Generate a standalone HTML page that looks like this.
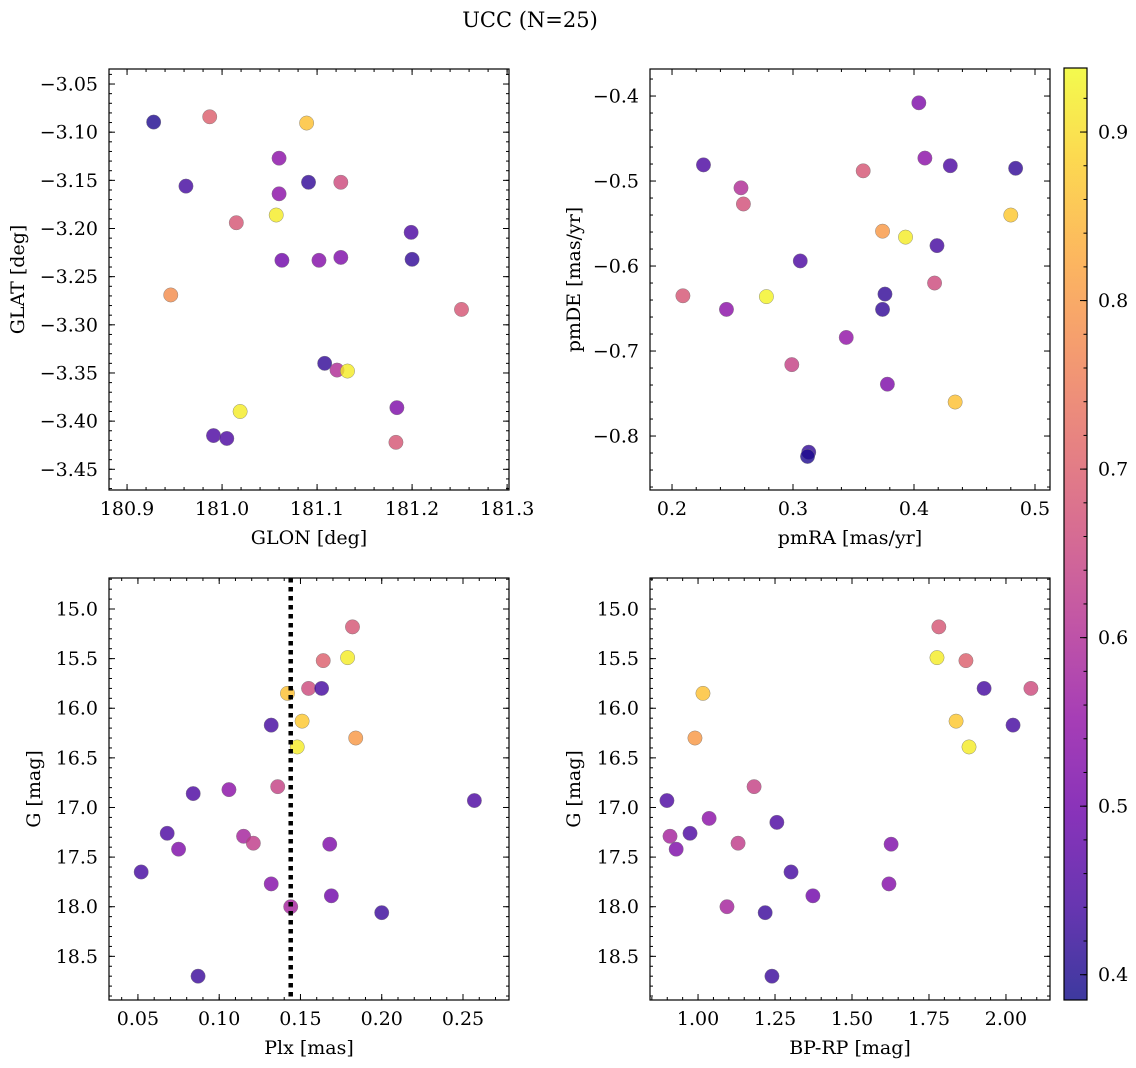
<!DOCTYPE html>
<html><head><meta charset="utf-8"><style>
html,body{margin:0;padding:0;background:#fff;}
svg{display:block;font-family:"DejaVu Serif","Liberation Serif",serif;}
</style></head><body>
<svg id="fig" width="1136" height="1068" viewBox="0 0 1136 1068" xmlns="http://www.w3.org/2000/svg">
<text x="530" y="27" font-size="21" text-anchor="middle">UCC (N=25)</text>
</svg>
<script>
const cTL = [0.40,0.70,0.86,0.44,0.54,0.54,0.42,0.66,0.92,0.68,0.45,0.50,0.53,0.52,0.42,0.78,0.68,0.42,0.60,0.92,0.92,0.52,0.45,0.45,0.68];
const glon = [180.928,180.987,181.089,180.962,181.060,181.060,181.091,181.125,181.057,181.015,181.199,181.063,181.102,181.125,181.200,180.946,181.252,181.108,181.121,181.132,181.019,181.184,180.991,181.005,181.183];
const glat = [-3.0895,-3.084,-3.0905,-3.156,-3.127,-3.164,-3.152,-3.152,-3.186,-3.194,-3.204,-3.233,-3.233,-3.230,-3.232,-3.269,-3.284,-3.340,-3.347,-3.348,-3.390,-3.386,-3.415,-3.418,-3.422];

const cTR = [0.52,0.45,0.42,0.54,0.45,0.60,0.68,0.67,0.87,0.80,0.92,0.44,0.45,0.68,0.93,0.42,0.54,0.42,0.66,0.55,0.64,0.52,0.86,0.42,0.40];
const pmra = [0.404,0.226,0.484,0.409,0.430,0.257,0.358,0.259,0.480,0.374,0.393,0.419,0.306,0.209,0.278,0.376,0.245,0.374,0.417,0.344,0.299,0.378,0.434,0.313,0.312];
const pmde = [-0.408,-0.481,-0.485,-0.473,-0.482,-0.508,-0.488,-0.527,-0.540,-0.559,-0.566,-0.576,-0.594,-0.635,-0.636,-0.633,-0.651,-0.651,-0.620,-0.684,-0.716,-0.739,-0.760,-0.819,-0.824];

const cB = [0.68,0.92,0.70,0.86,0.66,0.44,0.87,0.80,0.44,0.92,0.45,0.45,0.54,0.64,0.45,0.58,0.52,0.63,0.52,0.44,0.53,0.50,0.58,0.43,0.43];
const plx = [0.182,0.179,0.164,0.142,0.155,0.163,0.151,0.184,0.132,0.148,0.257,0.084,0.106,0.136,0.068,0.115,0.075,0.121,0.168,0.052,0.132,0.169,0.144,0.200,0.087];
const gmagL = [15.18,15.49,15.52,15.85,15.80,15.80,16.13,16.30,16.17,16.39,16.93,16.86,16.82,16.79,17.26,17.29,17.42,17.36,17.37,17.65,17.77,17.89,18.00,18.06,18.70];
const bprp = [1.782,1.776,1.870,1.016,2.081,1.929,1.838,0.990,2.023,1.880,0.899,1.256,1.036,1.182,0.974,0.909,0.929,1.130,1.627,1.302,1.620,1.373,1.094,1.218,1.240];
const gmagR = [15.18,15.49,15.52,15.85,15.80,15.80,16.13,16.30,16.17,16.39,16.93,17.15,17.11,16.79,17.26,17.29,17.42,17.36,17.37,17.65,17.77,17.89,18.00,18.06,18.70];
const plxLine = [0.144];
const cbTicks = [0.4,0.5,0.6,0.7,0.8,0.9];

const NS='http://www.w3.org/2000/svg';
const svg=document.getElementById('fig');
const CMIN=0.385, CMAX=0.938;
const FS=19;
const stops=['#0d0887','#41049d','#6a00a8','#8f0da4','#b12a90','#cc4778','#e16462','#f2844b','#fca636','#fcce25','#f0f921'];
function hex(h){return [parseInt(h.slice(1,3),16),parseInt(h.slice(3,5),16),parseInt(h.slice(5,7),16)];}
function plasma(t){t=Math.max(0,Math.min(1,t));const f=t*10,i=Math.min(9,Math.floor(f)),u=f-i;const a=hex(stops[i]),b=hex(stops[i+1]);
 const c=a.map((v,k)=>Math.round(v+(b[k]-v)*u));return 'rgb('+c.join(',')+')';}
function cmap(v){return plasma((v-CMIN)/(CMAX-CMIN));}
function mk(tag,attrs,parent){const e=document.createElementNS(NS,tag);for(const k in attrs)e.setAttribute(k,attrs[k]);(parent||svg).appendChild(e);return e;}
function fmt(v,d){return (v<0?'\u2212':'')+Math.abs(v).toFixed(d);}

function panel(o){
 const g=mk('g',{});
 
 
 const sx=v=>o.x0+(v-o.xmin)/(o.xmax-o.xmin)*(o.x1-o.x0);
 const sy=o.flipY ? (v=>o.y0+(v-o.ymin)/(o.ymax-o.ymin)*(o.y1-o.y0)) : (v=>o.y0+(o.ymax-v)/(o.ymax-o.ymin)*(o.y1-o.y0));
 const pg=mk('g',{},g);
 
 
 for(let i=0;i<o.xs.length;i++){
  const c=mk('circle',{cx:sx(o.xs[i]),cy:sy(o.ys[i]),r:7.2,fill:cmap(o.cs[i]),'fill-opacity':0.8,stroke:'#777','stroke-width':0.4},pg);
  
  
 }
 if(o.vline){for(const v of o.vline){
  const l=mk('line',{x1:sx(v),x2:sx(v),y1:o.y0,y2:o.y1,stroke:'#000','stroke-width':4.5,'stroke-dasharray':'4.5,4.5'},g);
  
  
 }}
 const tg=mk('g',{stroke:'#000','stroke-width':1},g);
 const eps=1e-9;
 function rng(lo,hi,step){const a=Math.ceil((lo-eps)/step),b=Math.floor((hi+eps)/step);const r=[];for(let k=a;k<=b;k++)r.push(k*step);return r;}
 for(const v of rng(o.xmin,o.xmax,o.xminor)){const x=sx(v);mk('line',{x1:x,x2:x,y1:o.y1,y2:o.y1-3},tg);mk('line',{x1:x,x2:x,y1:o.y0,y2:o.y0+3},tg);}
 for(const v of rng(o.ymin,o.ymax,o.yminor)){const y=sy(v);mk('line',{x1:o.x0,x2:o.x0+3,y1:y,y2:y},tg);mk('line',{x1:o.x1,x2:o.x1-3,y1:y,y2:y},tg);}
 for(const v of rng(o.xmin,o.xmax,o.xmajor)){const x=sx(v);mk('line',{x1:x,x2:x,y1:o.y1,y2:o.y1-6},tg);mk('line',{x1:x,x2:x,y1:o.y0,y2:o.y0+6},tg);
  const t=mk('text',{x:x,y:o.y1+25,'font-size':FS,'text-anchor':'middle'},g);t.textContent=fmt(v,o.xd);
  
  }
 for(const v of rng(o.ymin,o.ymax,o.ymajor)){const y=sy(v);mk('line',{x1:o.x0,x2:o.x0+6,y1:y,y2:y},tg);mk('line',{x1:o.x1,x2:o.x1-6,y1:y,y2:y},tg);
  const t=mk('text',{x:o.x0-11,y:y+6.5,'font-size':FS,'text-anchor':'end'},g);t.textContent=fmt(v,o.yd);
  
  }
 const fr=mk('rect',{x:o.x0,y:o.y0,width:o.x1-o.x0,height:o.y1-o.y0,fill:'none',stroke:'#000','stroke-width':1.2},g);
 
 
 const xl=mk('text',{x:(o.x0+o.x1)/2,y:o.y1+54,'font-size':FS,'text-anchor':'middle'},g);xl.textContent=o.xlabel;
 
 
 const yx=o.ylx,yy=(o.y0+o.y1)/2;
 const yl=mk('text',{x:yx,y:yy,'font-size':FS,'text-anchor':'middle',transform:'rotate(-90 '+yx+' '+yy+')'},g);yl.textContent=o.ylabel;
 
 
}

panel({name:'glon-glat-panel',x0:109,x1:509,y0:69,y1:490,xmin:180.881,xmax:181.302,ymin:-3.4715,ymax:-3.0344,
 xs:glon,ys:glat,cs:cTL,xmajor:0.1,xminor:0.02,ymajor:0.05,yminor:0.01,xd:1,yd:2,xlabel:'GLON [deg]',ylabel:'GLAT [deg]',ylx:24});
panel({name:'pm-panel',x0:650,x1:1050,y0:69,y1:490,xmin:0.1818,xmax:0.5124,ymin:-0.8635,ymax:-0.3682,
 xs:pmra,ys:pmde,cs:cTR,xmajor:0.1,xminor:0.02,ymajor:0.1,yminor:0.02,xd:1,yd:1,xlabel:'pmRA [mas/yr]',ylabel:'pmDE [mas/yr]',ylx:580});
panel({name:'plx-g-panel',x0:109,x1:509,y0:578,y1:1000,xmin:0.0322,xmax:0.2783,ymin:14.6875,ymax:18.94,
 xs:plx,ys:gmagL,cs:cB,xmajor:0.05,xminor:0.01,ymajor:0.5,yminor:0.1,xd:2,yd:1,xlabel:'Plx [mas]',ylabel:'G [mag]',ylx:40,vline:plxLine,flipY:true});
panel({name:'cmd-panel',x0:650,x1:1050,y0:578,y1:1000,xmin:0.844,xmax:2.143,ymin:14.6875,ymax:18.94,
 xs:bprp,ys:gmagR,cs:cB,xmajor:0.25,xminor:0.05,ymajor:0.5,yminor:0.1,xd:2,yd:1,xlabel:'BP-RP [mag]',ylabel:'G [mag]',ylx:580,flipY:true});

(function(){
 const X0=1064,X1=1087,Y0=68,Y1=1000;
 const cg=mk('g',{});
 
 
 const defs=mk('defs',{},cg);
 const lg=mk('linearGradient',{id:'cbg',x1:0,y1:1,x2:0,y2:0},defs);
 for(let i=0;i<=20;i++){const t=i/20;mk('stop',{offset:t,'stop-color':plasma(t),'stop-opacity':0.8},lg);}
 const r=mk('rect',{x:X0,y:Y0,width:X1-X0,height:Y1-Y0,fill:'url(#cbg)',stroke:'#000','stroke-width':1.2},cg);
 
 
 const sy=v=>Y1-(v-CMIN)/(CMAX-CMIN)*(Y1-Y0);
 for(let k=Math.ceil(CMIN/0.02);k*0.02<=CMAX;k++){const y=sy(k*0.02);mk('line',{x1:X1,x2:X1-3.5,y1:y,y2:y,stroke:'#000','stroke-width':1},cg);}
 for(const v of cbTicks){const y=sy(v);mk('line',{x1:X1,x2:X1-7,y1:y,y2:y,stroke:'#000','stroke-width':1},cg);
  const t=mk('text',{x:X1+11,y:y+6.5,'font-size':FS},cg);t.textContent=v.toFixed(1);
  
  }
})();
</script>
</body></html>
